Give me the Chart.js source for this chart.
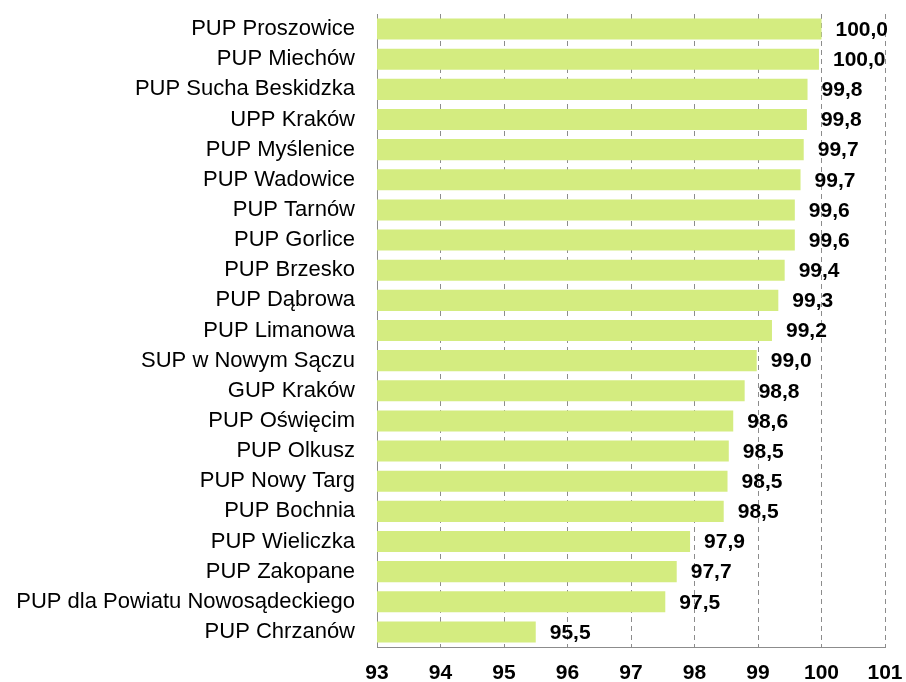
<!DOCTYPE html>
<html>
<head>
<meta charset="utf-8">
<script src="https://cdn.jsdelivr.net/npm/chart.js@4/dist/chart.umd.min.js"></script>
<style>
	html, body { margin: 0; padding: 0; background: #fff; }
	#wrap { width: 906px; height: 682px; position: relative; }
</style>
</head>
<body>
<div id="wrap"><canvas id="chart"></canvas></div>
<script>
var offices = [
	'PUP Proszowice', 'PUP Miechów', 'PUP Sucha Beskidzka', 'UPP Kraków', 'PUP Myślenice',
	'PUP Wadowice', 'PUP Tarnów', 'PUP Gorlice', 'PUP Brzesko', 'PUP Dąbrowa',
	'PUP Limanowa', 'SUP w Nowym Sączu', 'GUP Kraków', 'PUP Oświęcim', 'PUP Olkusz',
	'PUP Nowy Targ', 'PUP Bochnia', 'PUP Wieliczka', 'PUP Zakopane',
	'PUP dla Powiatu Nowosądeckiego', 'PUP Chrzanów'
];
var shares = [
	100.0, 99.96, 99.78, 99.77, 99.72,
	99.67, 99.58, 99.58, 99.42, 99.32,
	99.22, 98.98, 98.79, 98.61, 98.54,
	98.52, 98.46, 97.93, 97.72, 97.54,
	95.5
];
var xTicks = [93, 94, 95, 96, 97, 98, 99, 100, 101];

var barColor = '#D4EC80';
var lineColor = '#8c8c8c';
var fontName = '"Liberation Sans", Arial, sans-serif';

// etykiety wartosci po prawej stronie slupkow
var valueLabels = {
	id: 'valueLabels',
	afterDatasetsDraw: function (chart) {
		var ctx = chart.ctx;
		var meta = chart.getDatasetMeta(0);
		ctx.save();
		ctx.font = 'bold 21px ' + fontName;
		ctx.fillStyle = '#000';
		ctx.textAlign = 'left';
		ctx.textBaseline = 'middle';
		meta.data.forEach(function (bar, i) {
			var txt = shares[i].toFixed(1).replace('.', ',');
			ctx.fillText(txt, bar.x + 14, bar.y + 1);
		});
		ctx.restore();
	}
};

new Chart(document.getElementById('chart'), {
	type: 'bar',
	data: {
		labels: offices,
		datasets: [{
			data: shares,
			backgroundColor: barColor,
			borderWidth: 0,
			barPercentage: 0.7,
			categoryPercentage: 1.0
		}]
	},
	options: {
		indexAxis: 'y',
		responsive: true,
		maintainAspectRatio: false,
		animation: false,
		layout: { padding: { top: 14, right: 21, left: 0, bottom: 0 } },
		plugins: {
			legend: { display: false },
			tooltip: { enabled: false }
		},
		scales: {
			x: {
				min: 93,
				max: 101,
				afterBuildTicks: function (axis) {
					axis.ticks = xTicks.map(function (v) { return { value: v }; });
				},
				afterFit: function (axis) {
					axis.height = 35;
					axis.paddingLeft = 0;
					axis.paddingRight = 0;
				},
				grid: {
					color: lineColor,
					lineWidth: 1,
					drawTicks: false
				},
				border: { display: true, color: lineColor, width: 1, dash: [5, 4] },
				ticks: {
					color: '#000',
					padding: 14,
					font: { family: fontName, size: 21, weight: 'bold' }
				}
			},
			y: {
				afterFit: function (axis) {
					axis.width = 377;
					axis.paddingTop = 0;
					axis.paddingBottom = 0;
				},
				grid: { display: false, drawTicks: false },
				border: { display: true, color: lineColor, width: 1 },
				ticks: {
					color: '#000',
					padding: 22,
					autoSkip: false,
					font: { family: fontName, size: 22 }
				}
			}
		}
	},
	plugins: [valueLabels]
});
</script>
</body>
</html>
